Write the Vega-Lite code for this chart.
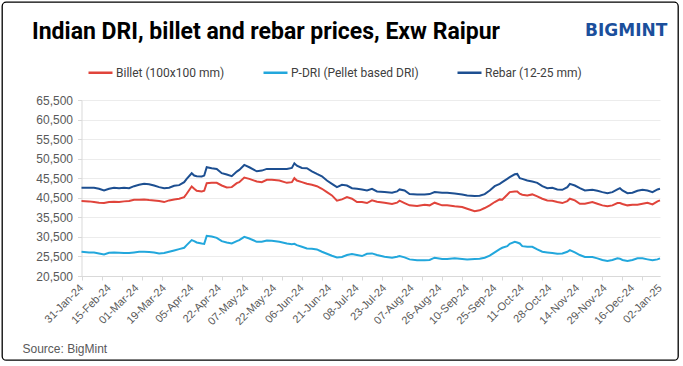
{
  "$schema": "https://vega.github.io/schema/vega-lite/v6.json",
  "width": 676,
  "height": 358,
  "autosize": {"type": "none"},
  "padding": {"left": 2, "top": 2, "right": 5, "bottom": 6},
  "background": "white",
  "title": {
    "text": "Indian DRI, billet and rebar prices, Exw Raipur",
    "anchor": "start",
    "frame": "group",
    "orient": "top",
    "offset": -53,
    "dx": 30,
    "baseline": "middle",
    "font": "Roboto",
    "fontSize": 23,
    "fontWeight": "bold",
    "color": "#000000"
  },
  "config": {
    "view": {"stroke": "#000000", "strokeWidth": 1.3, "cornerRadius": 4},
    "font": "Liberation Sans"
  },
  "data": {
    "values": [
      {"i": 0, "r": 43050, "b": 39660, "p": 26700},
      {"i": 3, "r": 43050, "b": 39580, "p": 26530},
      {"i": 5, "r": 43050, "b": 39400, "p": 26530},
      {"i": 7, "r": 42800, "b": 39240, "p": 26280},
      {"i": 9, "r": 42370, "b": 39150, "p": 26020},
      {"i": 11, "r": 42800, "b": 39400, "p": 26450},
      {"i": 13, "r": 43050, "b": 39490, "p": 26530},
      {"i": 15, "r": 42960, "b": 39400, "p": 26450},
      {"i": 17, "r": 43050, "b": 39580, "p": 26360},
      {"i": 19, "r": 42960, "b": 39660, "p": 26360},
      {"i": 21, "r": 43470, "b": 40000, "p": 26530},
      {"i": 23, "r": 43810, "b": 40000, "p": 26700},
      {"i": 25, "r": 44070, "b": 40085, "p": 26700},
      {"i": 27, "r": 43980, "b": 39915, "p": 26620},
      {"i": 29, "r": 43640, "b": 39830, "p": 26530},
      {"i": 31, "r": 43220, "b": 39660, "p": 26280},
      {"i": 33, "r": 42960, "b": 39400, "p": 26360},
      {"i": 35, "r": 43050, "b": 39830, "p": 26700},
      {"i": 37, "r": 43560, "b": 40085, "p": 27040},
      {"i": 39, "r": 43730, "b": 40250, "p": 27380},
      {"i": 41, "r": 44490, "b": 40680, "p": 27720},
      {"i": 42, "r": 45340, "b": 41530, "p": 28400},
      {"i": 44, "r": 46780, "b": 43390, "p": 29670},
      {"i": 45, "r": 46180, "b": 42800, "p": 29410},
      {"i": 46, "r": 46010, "b": 42290, "p": 29070},
      {"i": 48, "r": 45930, "b": 42120, "p": 28820},
      {"i": 49, "r": 46180, "b": 42290, "p": 28735},
      {"i": 50, "r": 48300, "b": 44235, "p": 30770},
      {"i": 52, "r": 48050, "b": 44320, "p": 30600},
      {"i": 54, "r": 47880, "b": 44320, "p": 30260},
      {"i": 56, "r": 46780, "b": 43640, "p": 29410},
      {"i": 58, "r": 46440, "b": 43130, "p": 29070},
      {"i": 60, "r": 46010, "b": 43220, "p": 28820},
      {"i": 62, "r": 47200, "b": 44235, "p": 29410},
      {"i": 63, "r": 47620, "b": 44490, "p": 29670},
      {"i": 65, "r": 48890, "b": 45680, "p": 30510},
      {"i": 67, "r": 48300, "b": 45340, "p": 30090},
      {"i": 70, "r": 47280, "b": 44660, "p": 29240},
      {"i": 72, "r": 47450, "b": 44490, "p": 29240},
      {"i": 74, "r": 47880, "b": 45080, "p": 29580},
      {"i": 76, "r": 47880, "b": 45080, "p": 29500},
      {"i": 79, "r": 47880, "b": 44910, "p": 29240},
      {"i": 82, "r": 47880, "b": 44320, "p": 28820},
      {"i": 84, "r": 48130, "b": 44490, "p": 28650},
      {"i": 85, "r": 49320, "b": 45510, "p": 28735},
      {"i": 86, "r": 48720, "b": 44910, "p": 28400},
      {"i": 88, "r": 48130, "b": 44490, "p": 27970},
      {"i": 90, "r": 48050, "b": 44070, "p": 27550},
      {"i": 92, "r": 47280, "b": 43810, "p": 27460},
      {"i": 94, "r": 46600, "b": 43470, "p": 27300},
      {"i": 96, "r": 46010, "b": 42800, "p": 26700},
      {"i": 98, "r": 44910, "b": 41950, "p": 26190},
      {"i": 100, "r": 44070, "b": 41100, "p": 25690},
      {"i": 102, "r": 43220, "b": 39750, "p": 25260},
      {"i": 104, "r": 43810, "b": 40085, "p": 25350},
      {"i": 106, "r": 43640, "b": 40680, "p": 25860},
      {"i": 108, "r": 42960, "b": 40250, "p": 26110},
      {"i": 110, "r": 42800, "b": 39400, "p": 25860},
      {"i": 112, "r": 42630, "b": 39400, "p": 25600},
      {"i": 114, "r": 42370, "b": 39150, "p": 26190},
      {"i": 116, "r": 42800, "b": 39830, "p": 26280},
      {"i": 118, "r": 42120, "b": 39490, "p": 25860},
      {"i": 121, "r": 41950, "b": 39240, "p": 25430},
      {"i": 124, "r": 41780, "b": 38900, "p": 25180},
      {"i": 126, "r": 42120, "b": 39240, "p": 25430},
      {"i": 127, "r": 42630, "b": 39750, "p": 25600},
      {"i": 129, "r": 42370, "b": 39150, "p": 25260},
      {"i": 131, "r": 41440, "b": 38560, "p": 24750},
      {"i": 134, "r": 41360, "b": 38390, "p": 24500},
      {"i": 137, "r": 41360, "b": 38730, "p": 24500},
      {"i": 139, "r": 41440, "b": 38560, "p": 24590},
      {"i": 141, "r": 41950, "b": 39240, "p": 25180},
      {"i": 144, "r": 41780, "b": 38560, "p": 24840},
      {"i": 146, "r": 41780, "b": 38560, "p": 24840},
      {"i": 149, "r": 41610, "b": 38310, "p": 25010},
      {"i": 152, "r": 41360, "b": 38140, "p": 24840},
      {"i": 154, "r": 41100, "b": 37710, "p": 24750},
      {"i": 157, "r": 40930, "b": 37040, "p": 24840},
      {"i": 159, "r": 41020, "b": 37290, "p": 24920},
      {"i": 161, "r": 41440, "b": 37880, "p": 25180},
      {"i": 163, "r": 42370, "b": 38560, "p": 25690},
      {"i": 165, "r": 43470, "b": 39410, "p": 26530},
      {"i": 167, "r": 44070, "b": 40085, "p": 27380},
      {"i": 168, "r": 44490, "b": 40000, "p": 27720},
      {"i": 170, "r": 45340, "b": 41270, "p": 28140},
      {"i": 171, "r": 45760, "b": 41950, "p": 28735},
      {"i": 173, "r": 46500, "b": 42120, "p": 29240},
      {"i": 174, "r": 46600, "b": 42120, "p": 29070},
      {"i": 175, "r": 45510, "b": 41530, "p": 28820},
      {"i": 176, "r": 45340, "b": 41270, "p": 28140},
      {"i": 178, "r": 44910, "b": 41100, "p": 27970},
      {"i": 180, "r": 44660, "b": 41360, "p": 27970},
      {"i": 182, "r": 44320, "b": 40850, "p": 27300},
      {"i": 184, "r": 43470, "b": 40250, "p": 26700},
      {"i": 186, "r": 42960, "b": 39830, "p": 26530},
      {"i": 188, "r": 43050, "b": 39750, "p": 26360},
      {"i": 190, "r": 42630, "b": 39410, "p": 26190},
      {"i": 192, "r": 42540, "b": 39150, "p": 26280},
      {"i": 194, "r": 43220, "b": 39660, "p": 26700},
      {"i": 195, "r": 44070, "b": 40250, "p": 27130},
      {"i": 197, "r": 43640, "b": 39830, "p": 26530},
      {"i": 199, "r": 42960, "b": 38980, "p": 25860},
      {"i": 201, "r": 42370, "b": 38980, "p": 25350},
      {"i": 204, "r": 42540, "b": 39410, "p": 25350},
      {"i": 206, "r": 42290, "b": 38980, "p": 25010},
      {"i": 208, "r": 41950, "b": 38560, "p": 24590},
      {"i": 210, "r": 41690, "b": 38310, "p": 24330},
      {"i": 212, "r": 41950, "b": 38560, "p": 24590},
      {"i": 214, "r": 42630, "b": 39150, "p": 25010},
      {"i": 215, "r": 42960, "b": 39150, "p": 24920},
      {"i": 216, "r": 42370, "b": 38900, "p": 24590},
      {"i": 218, "r": 41690, "b": 38560, "p": 24330},
      {"i": 220, "r": 41780, "b": 38730, "p": 24590},
      {"i": 222, "r": 42290, "b": 38730, "p": 25010},
      {"i": 224, "r": 42540, "b": 38980, "p": 25010},
      {"i": 226, "r": 42370, "b": 39240, "p": 24750},
      {"i": 228, "r": 41950, "b": 38810, "p": 24500},
      {"i": 230, "r": 42630, "b": 39580, "p": 24750},
      {"i": 231, "r": 42800, "b": 39830, "p": 25010}
    ]
  },
  "transform": [{"fold": ["b", "p", "r"], "as": ["s", "v"]}],
  "mark": {"type": "line", "strokeWidth": 2, "interpolate": "linear"},
  "encoding": {
    "x": {
      "field": "i",
      "type": "quantitative",
      "scale": {"domain": [0, 231], "range": [79.5, 658], "nice": false, "zero": false},
      "axis": {
        "orient": "bottom",
        "offset": -84,
        "values": [0, 8, 11, 16, 22, 24, 32, 33, 40, 44, 48, 55, 56, 64, 66, 72, 77, 80, 88, 96, 99, 104, 110, 112, 120, 121, 128, 132, 136, 143, 144, 152, 154, 160, 165, 168, 176, 184, 187, 192, 198, 200, 208, 209, 216, 220, 224, 231],
        "labelExpr": "datum.value % 11 === 0 ? ['31-Jan-24','15-Feb-24','01-Mar-24','19-Mar-24','05-Apr-24','22-Apr-24','07-May-24','22-May-24','06-Jun-24','21-Jun-24','08-Jul-24','23-Jul-24','07-Aug-24','26-Aug-24','10-Sep-24','25-Sep-24','11-Oct-24','28-Oct-24','14-Nov-24','29-Nov-24','16-Dec-24','02-Jan-25'][datum.value / 11] : ''",
        "labelAngle": -45,
        "labelAlign": "right",
        "labelBaseline": "middle",
        "labelPadding": 6,
        "labelFontSize": 11,
        "labelColor": "#595959",
        "labelOverlap": false,
        "labelBound": false,
        "labelFlush": false,
        "grid": false,
        "domainColor": "#d9d9d9",
        "tickColor": {"condition": {"test": "datum.value % 8 === 0", "value": "#d9d9d9"}, "value": "transparent"},
        "tickSize": 4,
        "title": "Source: BigMint",
        "titleX": 20,
        "titleY": 72,
        "titleAlign": "left",
        "titleAnchor": "start",
        "titleBaseline": "middle",
        "titleFontSize": 12,
        "titleFontWeight": "normal",
        "titleColor": "#595959"
      }
    },
    "y": {
      "field": "v",
      "type": "quantitative",
      "scale": {"domain": [20500, 65500], "range": [274, 98], "nice": false, "zero": false},
      "axis": {
        "orient": "left",
        "offset": -79.5,
        "values": [20500, 25500, 30500, 35500, 40500, 45500, 50500, 55500, 60500, 65500],
        "format": ",.0f",
        "labelFontSize": 12,
        "labelColor": "#595959",
        "labelPadding": 5,
        "grid": true,
        "gridColor": "#ececec",
        "domainColor": "#d9d9d9",
        "tickColor": "#d9d9d9",
        "tickSize": 4,
        "title": "BIGMINT",
        "titleAngle": 0,
        "titleX": 503,
        "titleY": 28,
        "titleAlign": "left",
        "titleBaseline": "middle",
        "titleFont": "DejaVu Sans",
        "titleFontSize": 17,
        "titleFontWeight": "bold",
        "titleColor": "#1b4f9c"
      }
    },
    "color": {
      "field": "s",
      "type": "nominal",
      "scale": {"domain": ["b", "p", "r"], "range": ["#e0443b", "#22a7dc", "#1d4f91"]},
      "legend": {
        "orient": "none",
        "legendX": 85,
        "legendY": 57,
        "direction": "horizontal",
        "title": null,
        "padding": 0,
        "symbolType": "stroke",
        "symbolSize": 576,
        "symbolStrokeWidth": 2.5,
        "columnPadding": 33,
        "labelOffset": 2,
        "labelFont": "Roboto",
        "labelFontSize": 12,
        "labelColor": "#404040",
        "labelLimit": 300,
        "labelExpr": "datum.value === 'b' ? 'Billet (100x100 mm)' : datum.value === 'p' ? 'P-DRI (Pellet based DRI)' : 'Rebar (12-25 mm)'"
      }
    }
  }
}
